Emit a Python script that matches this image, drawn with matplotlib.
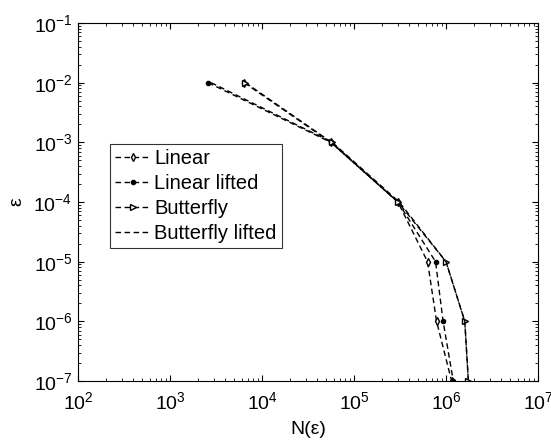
import matplotlib
matplotlib.use('Agg')
import matplotlib.pyplot as plt
import numpy as np

plt.rcParams['font.family'] = ['Liberation Sans', 'DejaVu Sans']
plt.rcParams['mathtext.fontset'] = 'custom'
plt.rcParams['mathtext.rm'] = 'Liberation Sans'
plt.rcParams['mathtext.it'] = 'Liberation Sans:italic'

eps = [1e-2, 1e-3, 1e-4, 1e-5, 1e-6, 1e-7]
n_linear = [6.4e3, 5.6e4, 3.0e5, 6.3e5, 7.9e5, 1.15e6]
n_linear_lifted = [2.6e3, 5.6e4, 3.0e5, 7.7e5, 9.3e5, 1.2e6]
n_butterfly = [6.6e3, 5.7e4, 3.0e5, 1.0e6, 1.6e6, 1.75e6]
n_butterfly_lifted = [2.8e3, 5.8e4, 3.1e5, 1.0e6, 1.6e6, 1.75e6]

fig = plt.figure(figsize=(5.51, 4.45), dpi=100)
ax = fig.add_axes([78 / 551, 1 - 381 / 445, 460 / 551, 358 / 445])

dash = (4, 2.5)
ax.loglog(n_linear, eps, 'k--', dashes=dash, marker='d', markersize=4, mfc='white', lw=1, label='Linear')
ax.loglog(n_linear_lifted, eps, 'k--', dashes=dash, marker='o', markersize=3, lw=1, label='Linear lifted')
ax.loglog(n_butterfly, eps, 'k--', dashes=dash, marker='>', markersize=4, mfc='white', lw=1, label='Butterfly')
ax.loglog(n_butterfly_lifted, eps, 'k--', dashes=dash, lw=1, label='Butterfly lifted')

ax.set_xlim(1e2, 1e7)
ax.set_ylim(1e-7, 1e-1)
ax.set_xlabel('N(ε)', fontsize=14, labelpad=6)
ax.set_ylabel('ε', fontsize=14, labelpad=6)
ax.tick_params(which='both', direction='in', top=True, right=True, labelsize=14)
ax.tick_params(which='major', length=4, pad=4)
ax.tick_params(axis='x', which='major', pad=7)
ax.tick_params(which='minor', length=2)
for s in ax.spines.values():
    s.set_linewidth(0.8)

leg = ax.legend(loc='upper left', bbox_to_anchor=(32 / 460, (381 - 144) / 358),
                fontsize=14.5, frameon=True, fancybox=False, edgecolor='black',
                handlelength=1.8, handletextpad=0.15, borderpad=0.25, labelspacing=0.3,
                borderaxespad=0)
leg.get_frame().set_linewidth(0.8)

fig.savefig('out.png', dpi=100)
